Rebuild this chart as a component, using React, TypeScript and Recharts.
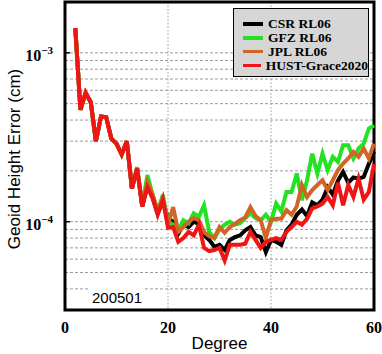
import { LineChart, Line, XAxis, YAxis, CartesianGrid, ReferenceArea } from "recharts";

const degrees = [
  2, 3, 4, 5, 6, 7, 8, 9, 10, 11, 12, 13, 14, 15, 16, 17, 18, 19, 20, 21,
  22, 23, 24, 25, 26, 27, 28, 29, 30, 31, 32, 33, 34, 35, 36, 37, 38, 39, 40, 41,
  42, 43, 44, 45, 46, 47, 48, 49, 50, 51, 52, 53, 54, 55, 56, 57, 58, 59, 60,
];

const csr = [
  1.4e-3, 4.6e-4, 5.8e-4, 5.1e-4, 3.0e-4, 4.2e-4, 4.15e-4, 3.1e-4, 2.9e-4, 2.5e-4,
  3.0e-4, 1.57e-4, 2.07e-4, 1.23e-4, 1.65e-4, 1.4e-4, 1.12e-4, 1.32e-4, 1.05e-4, 1.0e-4,
  8.5e-5, 9.6e-5, 9.3e-5, 1.0e-4, 9.7e-5, 8.3e-5, 7.8e-5, 7.1e-5, 7.3e-5, 6.8e-5,
  7.8e-5, 8.1e-5, 8.3e-5, 8.9e-5, 9.3e-5, 8.3e-5, 8.1e-5, 6.6e-5, 7.8e-5, 7.6e-5,
  7.3e-5, 8.9e-5, 9.6e-5, 1.1e-4, 1.18e-4, 1.08e-4, 1.3e-4, 1.25e-4, 1.35e-4, 1.6e-4,
  1.45e-4, 1.75e-4, 1.97e-4, 1.7e-4, 1.83e-4, 1.8e-4, 1.84e-4, 2.2e-4, 2.6e-4,
];

const gfz = [
  1.4e-3, 4.6e-4, 5.8e-4, 5.1e-4, 3.0e-4, 4.2e-4, 4.15e-4, 3.1e-4, 2.9e-4, 2.5e-4,
  3.0e-4, 1.57e-4, 2.1e-4, 1.25e-4, 1.89e-4, 1.45e-4, 1.15e-4, 1.44e-4, 1.0e-4, 9.6e-5,
  8.9e-5, 1.02e-4, 9.8e-5, 1.12e-4, 1.07e-4, 1.25e-4, 8.7e-5, 8.0e-5, 9.0e-5, 9.6e-5,
  1.0e-4, 9.6e-5, 9.8e-5, 1.05e-4, 1.12e-4, 1.05e-4, 1.02e-4, 1.1e-4, 1.0e-4, 1.28e-4,
  1.15e-4, 1.5e-4, 1.5e-4, 1.93e-4, 1.34e-4, 1.76e-4, 2.53e-4, 1.93e-4, 2.53e-4, 2.02e-4,
  2.42e-4, 2.26e-4, 2.84e-4, 2.84e-4, 2.37e-4, 2.71e-4, 2.9e-4, 3.56e-4, 3.72e-4,
];

const jpl = [
  1.4e-3, 4.6e-4, 5.8e-4, 5.1e-4, 3.0e-4, 4.2e-4, 4.15e-4, 3.1e-4, 2.9e-4, 2.5e-4,
  3.0e-4, 1.57e-4, 2.07e-4, 1.23e-4, 1.72e-4, 1.45e-4, 1.15e-4, 1.38e-4, 9.6e-5, 1.22e-4,
  8.7e-5, 9.3e-5, 1.0e-4, 1.05e-4, 1.02e-4, 8.7e-5, 8.2e-5, 8.0e-5, 9.3e-5, 8.6e-5,
  9.3e-5, 9.7e-5, 1.02e-4, 1.06e-4, 1.22e-4, 1.08e-4, 1.02e-4, 8.0e-5, 1.02e-4, 1.04e-4,
  1.04e-4, 1.17e-4, 1.1e-4, 1.23e-4, 1.65e-4, 1.4e-4, 1.54e-4, 1.65e-4, 1.76e-4, 1.54e-4,
  1.76e-4, 2.02e-4, 2.21e-4, 2.37e-4, 2.59e-4, 2.42e-4, 2.71e-4, 2.37e-4, 2.9e-4,
];

const hust = [
  1.4e-3, 4.6e-4, 5.8e-4, 5.1e-4, 3.0e-4, 4.2e-4, 4.15e-4, 3.1e-4, 2.9e-4, 2.5e-4,
  3.0e-4, 1.57e-4, 2.07e-4, 1.23e-4, 1.6e-4, 1.38e-4, 1.1e-4, 1.35e-4, 9.2e-5, 9.3e-5,
  7.6e-5, 8.0e-5, 8.7e-5, 8.3e-5, 9.6e-5, 7.0e-5, 6.7e-5, 6.8e-5, 7.0e-5, 5.9e-5,
  7.3e-5, 7.3e-5, 7.3e-5, 7.4e-5, 8.7e-5, 7.8e-5, 7.0e-5, 7.6e-5, 7.8e-5, 8.0e-5,
  7.8e-5, 8.7e-5, 9.3e-5, 1.0e-4, 9.6e-5, 1.04e-4, 1.2e-4, 1.23e-4, 1.28e-4, 1.4e-4,
  1.25e-4, 1.7e-4, 1.25e-4, 1.65e-4, 1.4e-4, 1.8e-4, 1.35e-4, 1.5e-4, 2.2e-4,
];

const xTicks = [0, 20, 40, 60];
const yTicks = [
  3e-5, 4e-5, 5e-5, 6e-5, 7e-5, 8e-5, 9e-5,
  1e-4, 2e-4, 3e-4, 4e-4, 5e-4, 6e-4, 7e-4, 8e-4, 9e-4,
  1e-3, 2e-3,
];
const majorTicks = [1e-4, 1e-3];

const series = [
  { key: "csr", name: "CSR RL06", color: "#000000" },
  { key: "gfz", name: "GFZ RL06", color: "#22e222" },
  { key: "jpl", name: "JPL RL06", color: "#d06528" },
  { key: "hust", name: "HUST-Grace2020", color: "#f01414" },
];

const data = degrees.map((d, i) => ({
  degree: d,
  csr: csr[i],
  gfz: gfz[i],
  jpl: jpl[i],
  hust: hust[i],
}));

const serif = "'Liberation Serif', 'Times New Roman', serif";
const sans = "'Liberation Sans', Arial, sans-serif";

const YTick = (props: any) => {
  const { x, y, payload } = props;
  const v = payload.value;
  if (!majorTicks.includes(v)) return <g />;
  const exp = Math.round(Math.log10(v));
  return (
    <g>
      <line x1={x} x2={x + 5} y1={y} y2={y} stroke="#000" strokeWidth={1.5} />
      <text x={x - 12} y={y + 8} textAnchor="end" fontFamily={serif} fontWeight="bold" fontSize={16} fill="#000">
        10<tspan dy={-7} fontSize={11}>{"\u2212" + Math.abs(exp)}</tspan>
      </text>
    </g>
  );
};

const XTick = (props: any) => {
  const { x, y, payload } = props;
  return (
    <text x={x} y={y + 23} textAnchor="middle" fontFamily={serif} fontWeight="bold" fontSize={16} fill="#000">
      {payload.value}
    </text>
  );
};

const YLabel = (props: any) => {
  const vb = props.viewBox || { x: 0, y: 2, width: 65, height: 308 };
  const cx = vb.x + 20;
  const cy = vb.y + vb.height / 2 + 3;
  return (
    <text x={cx} y={cy} transform={`rotate(-90, ${cx}, ${cy})`} textAnchor="middle" fontFamily={sans} fontSize={17} fill="#000">
      Geoid Height Error (cm)
    </text>
  );
};

const XLabel = (props: any) => {
  const vb = props.viewBox || { x: 65, y: 310, width: 309, height: 44 };
  return (
    <text x={vb.x + vb.width / 2} y={vb.y + 39} textAnchor="middle" fontFamily={sans} fontSize={17} fill="#000">
      Degree
    </text>
  );
};

const LegendBox = () => (
  <div
    style={{
      position: "absolute",
      left: 233,
      top: 8,
      width: 136,
      height: 69,
      boxSizing: "border-box",
      background: "#d6d6d6",
      border: "1.5px solid #000",
      padding: "8px 0 0 9px",
    }}
  >
    {series.map((s) => (
      <div key={s.key} style={{ display: "flex", alignItems: "center", height: 13.9, whiteSpace: "nowrap" }}>
        <span style={{ display: "inline-block", width: 20, height: 3.5, background: s.color, marginRight: 5 }} />
        <span style={{ fontFamily: serif, fontWeight: "bold", fontSize: 13.5, color: "#000", lineHeight: "13.9px" }}>
          {s.name}
        </span>
      </div>
    ))}
  </div>
);

const App = () => (
  <div style={{ position: "absolute", left: 0, top: 0, width: 382, height: 354, background: "#fff" }}>
    <LineChart width={382} height={354} data={data} margin={{ top: 2, right: 8, bottom: 0, left: 0 }}>
      <CartesianGrid horizontal={true} vertical={false} stroke="#9a9a9a" strokeDasharray="3 2" />
      <CartesianGrid horizontal={false} vertical={true} stroke="#9a9a9a" strokeDasharray="1.5 2" />
      <XAxis
        dataKey="degree"
        type="number"
        domain={[0, 60]}
        ticks={xTicks}
        height={44}
        tickLine={false}
        axisLine={false}
        tickSize={0}
        tickMargin={0}
        tick={<XTick />}
        label={<XLabel />}
      />
      <YAxis
        scale="log"
        domain={[3e-5, 2e-3]}
        allowDataOverflow
        ticks={yTicks}
        width={65}
        tickLine={false}
        axisLine={false}
        tickSize={0}
        tickMargin={0}
        interval={0}
        tick={<YTick />}
        label={<YLabel />}
      />
      {series.map((s) => (
        <Line
          key={s.key}
          dataKey={s.key}
          name={s.name}
          stroke={s.color}
          strokeWidth={4}
          dot={false}
          isAnimationActive={false}
        />
      ))}
      <ReferenceArea x1={0} x2={60} y1={3e-5} y2={2e-3} fill="none" stroke="#000" strokeWidth={3} ifOverflow="visible" />
    </LineChart>
    <LegendBox />
    <div
      style={{
        position: "absolute",
        left: 89,
        top: 288,
        padding: "0 3px",
        background: "#fff",
        fontFamily: sans,
        fontSize: 15,
        lineHeight: "19px",
        color: "#000",
      }}
    >
      200501
    </div>
  </div>
);

export default App;
